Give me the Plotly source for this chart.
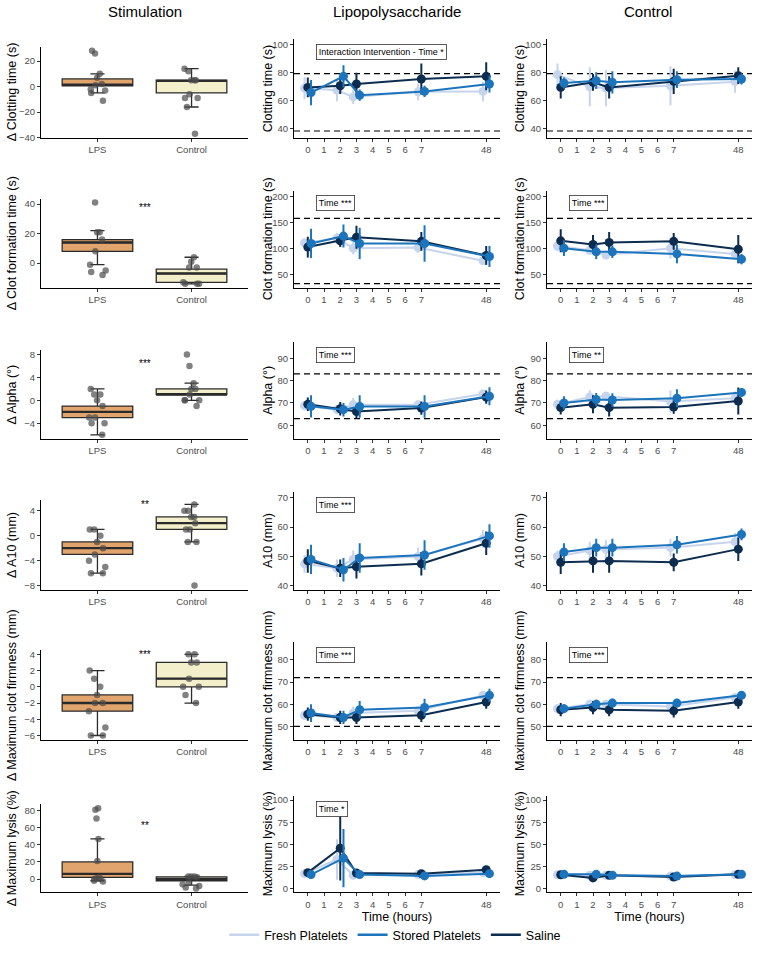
import plotly.graph_objects as go

# ---------------- data ----------------
HOURS = [0, 2, 3, 7, 48]
SERIES = ["Fresh Platelets", "Stored Platelets", "Saline"]
COLORS = {"Fresh Platelets": "#c6d4ec", "Stored Platelets": "#1c74bc", "Saline": "#0c2d4f"}
GROUPS = ["LPS", "Control"]

# Clotting time (s)
CT_LPS_MEAN = {"Fresh Platelets": [68.7, 67.2, 62.4, 66.0, 66.3],
               "Stored Platelets": [65.5, 77.1, 63.6, 66.3, 71.6],
               "Saline": [69.2, 70.4, 71.6, 75.2, 77.1]}
CT_LPS_SD = {"Fresh Platelets": [8, 8, 5, 6, 7],
             "Stored Platelets": [9, 8, 4, 4, 6],
             "Saline": [7, 6, 8, 11, 10]}
CT_CTRL_MEAN = {"Fresh Platelets": [78.3, 69.6, 68.7, 70.4, 73.3],
                "Stored Platelets": [72.3, 74.0, 72.8, 74.7, 75.2],
                "Saline": [69.2, 72.8, 69.2, 73.5, 77.6]}
CT_CTRL_SD = {"Fresh Platelets": [8, 14, 13, 14, 8],
              "Stored Platelets": [4, 6, 8, 6, 4],
              "Saline": [8, 6, 8, 9, 6]}

# Clot formation time (s)
CFT_LPS_MEAN = {"Fresh Platelets": [111, 120, 101, 102, 77],
                "Stored Platelets": [110, 124, 110, 110, 85],
                "Saline": [103, 115, 122, 114, 87]}
CFT_LPS_SD = {"Fresh Platelets": [8, 10, 12, 10, 8],
              "Stored Platelets": [28, 22, 30, 35, 20],
              "Saline": [20, 12, 22, 18, 18]}
CFT_CTRL_MEAN = {"Fresh Platelets": [105, 97, 88, 101, 90],
                 "Stored Platelets": [101, 94, 94, 90, 80],
                 "Saline": [115, 108, 112, 114, 99]}
CFT_CTRL_SD = {"Fresh Platelets": [10, 8, 8, 20, 8],
               "Stored Platelets": [15, 14, 12, 18, 10],
               "Saline": [22, 18, 20, 16, 27]}

# Alpha (deg)
ALPHA_LPS_MEAN = {"Fresh Platelets": [68.8, 67.0, 69.2, 69.2, 74.0],
                  "Stored Platelets": [68.5, 67.0, 68.4, 68.4, 73.0],
                  "Saline": [69.4, 67.4, 66.2, 67.7, 72.6]}
ALPHA_LPS_SD = {"Fresh Platelets": [2, 2, 3, 2, 2],
                "Stored Platelets": [5, 3, 5, 5, 4],
                "Saline": [3, 3, 3, 3, 3]}
ALPHA_CTRL_MEAN = {"Fresh Platelets": [69.4, 72.7, 73.0, 70.6, 72.1],
                   "Stored Platelets": [70.0, 71.5, 71.3, 72.1, 74.7],
                   "Saline": [67.9, 69.4, 67.9, 68.2, 70.9]}
ALPHA_CTRL_SD = {"Fresh Platelets": [2, 3, 2, 5, 3],
                 "Stored Platelets": [3, 3, 3, 4, 2],
                 "Saline": [3, 4, 4, 3, 6]}

# A10 (mm)
A10_LPS_MEAN = {"Fresh Platelets": [47.5, 46.0, 49.0, 50.0, 56.0],
                "Stored Platelets": [49.0, 45.5, 49.5, 50.5, 57.0],
                "Saline": [48.5, 46.0, 46.5, 47.5, 54.5]}
A10_LPS_SD = {"Fresh Platelets": [3, 3, 3, 3, 3],
              "Stored Platelets": [5, 4, 5, 5, 4],
              "Saline": [4, 3, 4, 4, 4]}
A10_CTRL_MEAN = {"Fresh Platelets": [50.0, 52.0, 52.5, 53.0, 55.0],
                 "Stored Platelets": [51.5, 53.0, 53.0, 54.0, 57.5],
                 "Saline": [48.0, 48.5, 48.5, 48.0, 52.5]}
A10_CTRL_SD = {"Fresh Platelets": [2, 3, 3, 3, 3],
               "Stored Platelets": [3, 3, 3, 3, 2],
               "Saline": [4, 4, 4, 3, 4]}

# Maximum clot firmness (mm)
MCF_LPS_MEAN = {"Fresh Platelets": [55.0, 54.0, 56.0, 57.0, 64.0],
                "Stored Platelets": [56.0, 54.0, 57.5, 58.5, 64.0],
                "Saline": [55.5, 54.0, 54.0, 55.0, 61.0]}
MCF_LPS_SD = {"Fresh Platelets": [2, 2, 3, 2, 2],
              "Stored Platelets": [4, 3, 4, 4, 3],
              "Saline": [3, 3, 3, 3, 3]}
MCF_CTRL_MEAN = {"Fresh Platelets": [58.0, 60.0, 60.0, 59.0, 63.0],
                 "Stored Platelets": [58.0, 60.0, 60.5, 60.5, 64.0],
                 "Saline": [57.5, 58.5, 57.5, 57.0, 61.0]}
MCF_CTRL_SD = {"Fresh Platelets": [2, 2, 2, 2, 2],
               "Stored Platelets": [2, 2, 2, 2, 2],
               "Saline": [3, 3, 3, 3, 3]}

# Maximum lysis (%)
ML_LPS_MEAN = {"Fresh Platelets": [16.8, 32.8, 15.0, 15.7, 17.9],
               "Stored Platelets": [15.7, 34.3, 15.7, 14.2, 16.8],
               "Saline": [17.9, 45.5, 17.5, 16.8, 21.3]}
ML_LPS_SD = {"Fresh Platelets": [3, 23, 3, 3, 3],
             "Stored Platelets": [3, 33, 3, 3, 3],
             "Saline": [3, 36.5, 3, 3, 3]}
ML_CTRL_MEAN = {"Fresh Platelets": [15.5, 15.0, 15.0, 14.0, 15.5],
                "Stored Platelets": [16.0, 16.0, 15.0, 14.0, 16.0],
                "Saline": [15.5, 12.0, 15.0, 13.0, 16.0]}
ML_CTRL_SD = {"Fresh Platelets": [3, 3, 3, 3, 3],
              "Stored Platelets": [3, 3, 3, 3, 3],
              "Saline": [3, 3, 3, 3, 3]}

# Delta boxplots: [lower whisker, Q1, median, Q3, upper whisker]
CT_BOX_LPS = [-5, 0.5, 1.5, 6, 10]
CT_BOX_CTRL = [-16, -5, 4.5, 5, 14]
CT_PTS_LPS = [28, 26, 10, 7, 2, 1, -2, -3, -5, -11]
CT_PTS_CTRL = [14, 12, 5, 5, 5, -6, -9, -9, -16, -37]

CFT_BOX_LPS = [-1, 8, 14, 16, 22]
CFT_BOX_CTRL = [-14, -13, -7, -4, 4]
CFT_PTS_LPS = [41, 21, 21, 16, 8, -1, -5, -6, -8]
CFT_PTS_CTRL = [4, 1, -3, -3, -13, -14, -14, -14]

ALPHA_BOX_LPS = [-6, -3, -2, -1, 2]
ALPHA_BOX_CTRL = [0, 1, 1, 2, 3]
ALPHA_PTS_LPS = [2, 1, 1, 0, -1, -3, -3, -4, -4, -6]
ALPHA_PTS_CTRL = [8, 6, 3, 2, 2, 0, 0, 0, -1, 1]

A10_BOX_LPS = [-6, -3, -2, -1, 1]
A10_BOX_CTRL = [-1, 1, 2, 3, 5]
A10_PTS_LPS = [1, 1, 0, -1, -2, -3, -4, -5, -6, -6]
A10_PTS_CTRL = [5, 4, 4, 3, 3, 2, 1, 1, -1, -1, -8]

MCF_BOX_LPS = [-6, -3, -2, -1, 2]
MCF_BOX_CTRL = [-2, 0, 1, 3, 4]
MCF_PTS_LPS = [2, 1, 0, -1, -2, -2, -3, -5, -6, -6]
MCF_PTS_CTRL = [4, 4, 3, 3, 1, 0, 0, -1, -2]

ML_BOX_LPS = [-2, 2, 6, 20, 47]
ML_BOX_CTRL = [-7, -2, 0, 2.5, 3]
ML_PTS_LPS = [83, 81, 71, 47, 21, 2, 1, 0, 0, -2, -3]
ML_PTS_CTRL = [3, 3, 3, 2, -4, -6, -8, -10, -11]

ROW_TITLES = ["Clotting time (s)", "Clot formation time (s)", "Alpha (°)",
              "A10 (mm)", "Maximum clot firmness (mm)", "Maximum lysis (%)"]
REF_LINES = [[38, 79], [33, 158], [63, 83], [], [50, 72], []]
LPS_LABELS = ["Interaction Intervention - Time *", "Time ***", "Time ***", "Time ***", "Time ***", "Time *"]
CTRL_LABELS = [None, "Time ***", "Time **", None, "Time ***", None]
DELTA_SIG = ["", "***", "***", "**", "***", "**"]
DELTA_SIG_Y = [0, 38, 6.4, 5.0, 4.0, 63]

ROWS = [
    (CT_LPS_MEAN, CT_LPS_SD, CT_CTRL_MEAN, CT_CTRL_SD, CT_BOX_LPS, CT_BOX_CTRL, CT_PTS_LPS, CT_PTS_CTRL),
    (CFT_LPS_MEAN, CFT_LPS_SD, CFT_CTRL_MEAN, CFT_CTRL_SD, CFT_BOX_LPS, CFT_BOX_CTRL, CFT_PTS_LPS, CFT_PTS_CTRL),
    (ALPHA_LPS_MEAN, ALPHA_LPS_SD, ALPHA_CTRL_MEAN, ALPHA_CTRL_SD, ALPHA_BOX_LPS, ALPHA_BOX_CTRL, ALPHA_PTS_LPS, ALPHA_PTS_CTRL),
    (A10_LPS_MEAN, A10_LPS_SD, A10_CTRL_MEAN, A10_CTRL_SD, A10_BOX_LPS, A10_BOX_CTRL, A10_PTS_LPS, A10_PTS_CTRL),
    (MCF_LPS_MEAN, MCF_LPS_SD, MCF_CTRL_MEAN, MCF_CTRL_SD, MCF_BOX_LPS, MCF_BOX_CTRL, MCF_PTS_LPS, MCF_PTS_CTRL),
    (ML_LPS_MEAN, ML_LPS_SD, ML_CTRL_MEAN, ML_CTRL_SD, ML_BOX_LPS, ML_BOX_CTRL, ML_PTS_LPS, ML_PTS_CTRL),
]

# ---------------- styling / layout ----------------
W, H = 760, 960
FONT = "Arial, Liberation Sans, sans-serif"
DODGE = {"Fresh Platelets": -0.2, "Stored Platelets": 0.2, "Saline": 0.0}
DRAW_ORDER = ["Fresh Platelets", "Saline", "Stored Platelets"]
BOX_FILL = {"LPS": "#e0a46c", "Control": "#f3efca"}

ROW_TOP = [37, 190, 343, 494, 645, 800]
ROW_BOT = [137, 288, 440, 592, 743, 897]
COL_X = [(41, 248), (294, 500), (547, 752)]
YTITLE_X = [12, 268, 520]

Y_RANGE_TIME = [[33, 104], [25, 211], [54, 97], [38.7, 71.8], [44, 88], [-4.5, 104.5]]
Y_TICKS_TIME = [[40, 60, 80, 100], [50, 100, 150, 200], [60, 70, 80, 90],
                [40, 50, 60, 70], [50, 60, 70, 80], [0, 25, 50, 75, 100]]
Y_RANGE_DELTA = [[-40.25, 31.25], [-16.75, 43.75], [-6.7, 8.7], [-8.65, 5.65], [-6.5, 4.5], [-15.7, 87.7]]
Y_TICKS_DELTA = [[-40, -20, 0, 20], [0, 20, 40], [-4, 0, 4, 8], [-8, -4, 0, 4],
                 [-6, -4, -2, 0, 2, 4], [0, 20, 40, 60, 80]]


def hour_pos(h):
    return h if h <= 7 else 11


def ax_id(n):
    return "" if n == 1 else str(n)


fig = go.Figure()
layout = dict(width=W, height=H, margin=dict(l=0, r=0, t=0, b=0),
              paper_bgcolor="white", plot_bgcolor="white",
              font=dict(family=FONT, color="black"),
              boxmode="overlay", showlegend=True)
annotations = []
shapes = []

axis_common = dict(showline=True, linecolor="black", linewidth=1, ticks="outside",
                   ticklen=3, tickcolor="#333333", tickwidth=1,
                   tickfont=dict(size=9.5, color="#4d4d4d", family=FONT),
                   showgrid=False, zeroline=False)

for r in range(6):
    lps_mean, lps_sd, ctrl_mean, ctrl_sd, box_lps, box_ctrl, pts_lps, pts_ctrl = ROWS[r]
    for c in range(3):
        n = r * 3 + c + 1
        xa, ya = "x" + ax_id(n), "y" + ax_id(n)
        top = ROW_TOP[r] + (8 if c == 0 else 0)
        ydom = [1 - ROW_BOT[r] / H, 1 - top / H]
        xdom = [COL_X[c][0] / W, COL_X[c][1] / W]
        ytitle = ("Δ " + ROW_TITLES[r]) if c == 0 else ROW_TITLES[r]
        annotations.append(dict(x=YTITLE_X[c] / W, y=(ydom[0] + ydom[1]) / 2, xref="paper", yref="paper",
                                text=ytitle, textangle=-90, showarrow=False, xanchor="center",
                                yanchor="middle", font=dict(size=12.5, color="black")))
        if c == 0:
            xaxis = dict(axis_common, domain=xdom, anchor=ya, type="category",
                         categoryorder="array", categoryarray=GROUPS, range=[-0.6, 1.6])
            yaxis = dict(axis_common, domain=ydom, anchor=xa, range=Y_RANGE_DELTA[r],
                         tickvals=Y_TICKS_DELTA[r])
            for g, stats, pts in (("LPS", box_lps, pts_lps), ("Control", box_ctrl, pts_ctrl)):
                lf, q1, med, q3, uf = stats
                fig.add_trace(go.Box(x=[g], q1=[q1], median=[med], q3=[q3], lowerfence=[lf], upperfence=[uf],
                                     width=0.75, whiskerwidth=0.2, fillcolor=BOX_FILL[g],
                                     line=dict(color="#2b2b2b", width=1.3), boxpoints=False,
                                     showlegend=False, hoverinfo="skip", xaxis=xa, yaxis=ya))
                fig.add_trace(go.Box(x=[g], q1=[med], median=[med], q3=[med], lowerfence=[med], upperfence=[med],
                                     width=0.75, whiskerwidth=0, fillcolor="rgba(0,0,0,0)",
                                     line=dict(color="#2b2b2b", width=2.4), boxpoints=False,
                                     showlegend=False, hoverinfo="skip", xaxis=xa, yaxis=ya))
                fig.add_trace(go.Box(x=[g] * len(pts), y=pts, width=0.75, boxpoints="all", jitter=0.3, pointpos=0,
                                     fillcolor="rgba(0,0,0,0)", line=dict(color="rgba(0,0,0,0)", width=0),
                                     whiskerwidth=0,
                                     marker=dict(color="rgba(75,75,75,0.7)", size=6.5),
                                     showlegend=False, hoverinfo="skip", xaxis=xa, yaxis=ya))
            if DELTA_SIG[r]:
                annotations.append(dict(x=0.5, y=DELTA_SIG_Y[r], xref=xa, yref=ya, text=DELTA_SIG[r],
                                        showarrow=False, bgcolor="white",
                                        font=dict(size=10, color="#000000")))
        else:
            means = lps_mean if c == 1 else ctrl_mean
            sds = lps_sd if c == 1 else ctrl_sd
            xaxis = dict(axis_common, domain=xdom, anchor=ya, range=[-0.85, 11.85],
                         tickvals=[0, 1, 2, 3, 4, 5, 6, 7, 11],
                         ticktext=["0", "1", "2", "3", "4", "5", "6", "7", "48"])
            if r == 5:
                xaxis["title"] = dict(text="Time (hours)", font=dict(size=12.5, color="black"), standoff=3)
            yaxis = dict(axis_common, domain=ydom, anchor=xa, range=Y_RANGE_TIME[r],
                         tickvals=Y_TICKS_TIME[r])
            for yv in REF_LINES[r]:
                shapes.append(dict(type="line", xref=xa + " domain", x0=0, x1=1, yref=ya, y0=yv, y1=yv,
                                   line=dict(color="black", width=1.2, dash="6px,4px"), layer="below"))
            for s in DRAW_ORDER:
                col = COLORS[s]
                fig.add_trace(go.Scatter(
                    x=[hour_pos(h) + DODGE[s] for h in HOURS], y=means[s],
                    error_y=dict(type="data", array=sds[s], thickness=2, width=0, color=col),
                    mode="lines+markers", line=dict(color=col, width=2),
                    marker=dict(size=9, color=col), showlegend=False, hoverinfo="skip",
                    xaxis=xa, yaxis=ya))
            label = LPS_LABELS[r] if c == 1 else CTRL_LABELS[r]
            if label:
                annotations.append(dict(x=0.105, y=0.87, xref=xa + " domain", yref=ya + " domain",
                                        text=label, showarrow=False, xanchor="left", yanchor="middle",
                                        font=dict(size=9, color="black"), bgcolor="white",
                                        bordercolor="#333333", borderwidth=0.8, borderpad=2))
        layout["xaxis" + ax_id(n)] = xaxis
        layout["yaxis" + ax_id(n)] = yaxis

# legend entries
for i, s in enumerate(SERIES):
    fig.add_trace(go.Scatter(x=[None], y=[None], mode="lines", name=s,
                             line=dict(color=COLORS[s], width=2.5), legendrank=i + 1,
                             xaxis="x2", yaxis="y2"))

for txt, xc in (("Stimulation", 145), ("Lipopolysaccharide", 397), ("Control", 648)):
    annotations.append(dict(x=xc / W, y=1 - 10 / H, xref="paper", yref="paper", text=txt, showarrow=False,
                            xanchor="center", yanchor="middle", font=dict(size=15, color="black")))

layout["annotations"] = annotations
layout["shapes"] = shapes
layout["legend"] = dict(orientation="h", x=0.52, xanchor="center", y=1 - 940 / H, yanchor="middle",
                        font=dict(size=12.5, color="black"), itemwidth=30, traceorder="normal",
                        bgcolor="rgba(0,0,0,0)")
fig.update_layout(**layout)
fig.write_html("out.html", config={"displayModeBar": False},
               post_script="document.body.style.margin='0px';")
